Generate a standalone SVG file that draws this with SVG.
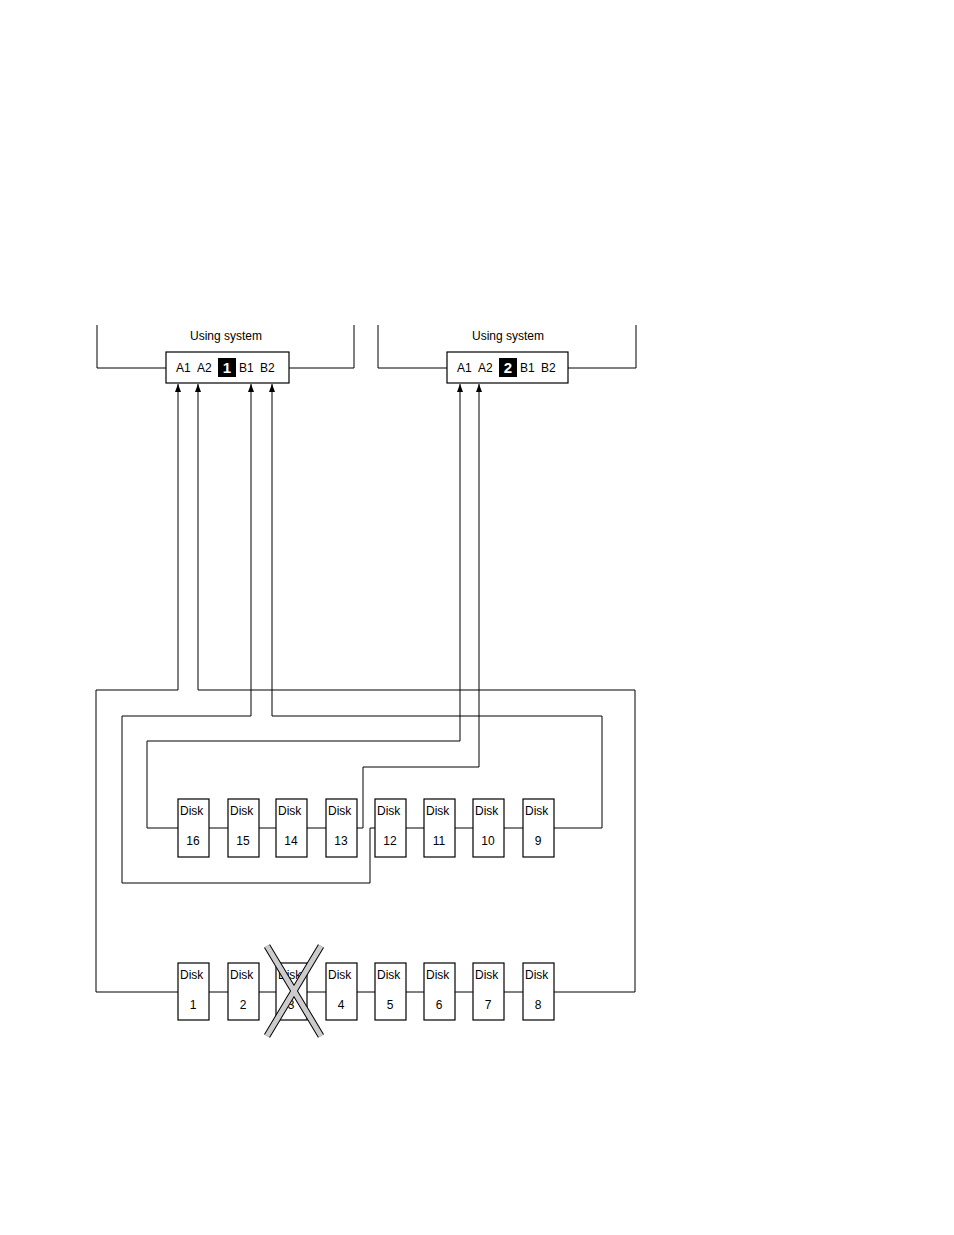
<svg xmlns="http://www.w3.org/2000/svg" width="954" height="1235" viewBox="0 0 954 1235">
<style>
text{font-family:"Liberation Sans",Arial,sans-serif;font-size:12px;fill:#000}
.l{fill:none;stroke:#000;stroke-width:1}
.d{fill:#fff;stroke:#000;stroke-width:1.2}
.c{text-anchor:middle}
</style>
<defs><marker id="ar" markerWidth="8" markerHeight="8" refX="8" refY="3" orient="auto" markerUnits="userSpaceOnUse" viewBox="0 0 8 6"><path d="M0,0 L8,3 L0,6 Z" fill="#000"/></marker></defs>
<rect width="954" height="1235" fill="#fff"/>
<g id="sys1">
<path class="l" d="M97,325 V368 H166 M289,368 H354 V325"/>
<rect class="d" x="166" y="352" width="123" height="31"/>
<text x="226" y="340" class="c">Using system</text>
<text x="176" y="372">A1</text><text x="197" y="372">A2</text>
<rect x="218" y="358" width="18" height="19" fill="#000"/>
<text x="227" y="373" class="c" style="fill:#fff;font-weight:bold;font-size:15px">1</text>
<text x="239" y="372">B1</text><text x="260" y="372">B2</text>
</g>
<g id="sys2">
<path class="l" d="M378,325 V368 H447 M568,368 H636 V325"/>
<rect class="d" x="447" y="352" width="121" height="31"/>
<text x="508" y="340" class="c">Using system</text>
<text x="457" y="372">A1</text><text x="478" y="372">A2</text>
<rect x="499" y="358" width="18" height="19" fill="#000"/>
<text x="508" y="373" class="c" style="fill:#fff;font-weight:bold;font-size:15px">2</text>
<text x="520" y="372">B1</text><text x="541" y="372">B2</text>
</g>
<g id="connectors">
<path class="l" d="M178,828 H357 M375,828 H554 M178,992 H554"/>
<path class="l" marker-end="url(#ar)" d="M178,992 H96 V690 H178 V384"/>
<path class="l" marker-end="url(#ar)" d="M554,992 H635 V690 H198 V384"/>
<path class="l" marker-end="url(#ar)" d="M375,828 H370 V883 H122 V716 H251 V384"/>
<path class="l" marker-end="url(#ar)" d="M554,828 H602 V716 H272 V384"/>
<path class="l" marker-end="url(#ar)" d="M178,828 H147 V741 H460 V384"/>
<path class="l" marker-end="url(#ar)" d="M357,828 H363 V767 H479 V384"/>
</g>
<g id="disks">
<g id="d16"><rect class="d" x="178" y="799" width="31" height="58"/><text x="180" y="815">Disk</text><text x="193" y="845" class="c">16</text></g>
<g id="d15"><rect class="d" x="228" y="799" width="31" height="58"/><text x="230" y="815">Disk</text><text x="243" y="845" class="c">15</text></g>
<g id="d14"><rect class="d" x="276" y="799" width="31" height="58"/><text x="278" y="815">Disk</text><text x="291" y="845" class="c">14</text></g>
<g id="d13"><rect class="d" x="326" y="799" width="31" height="58"/><text x="328" y="815">Disk</text><text x="341" y="845" class="c">13</text></g>
<g id="d12"><rect class="d" x="375" y="799" width="31" height="58"/><text x="377" y="815">Disk</text><text x="390" y="845" class="c">12</text></g>
<g id="d11"><rect class="d" x="424" y="799" width="31" height="58"/><text x="426" y="815">Disk</text><text x="439" y="845" class="c">11</text></g>
<g id="d10"><rect class="d" x="473" y="799" width="31" height="58"/><text x="475" y="815">Disk</text><text x="488" y="845" class="c">10</text></g>
<g id="d9"><rect class="d" x="523" y="799" width="31" height="58"/><text x="525" y="815">Disk</text><text x="538" y="845" class="c">9</text></g>
<g id="d1"><rect class="d" x="178" y="963" width="31" height="57"/><text x="180" y="979">Disk</text><text x="193" y="1009" class="c">1</text></g>
<g id="d2"><rect class="d" x="228" y="963" width="31" height="57"/><text x="230" y="979">Disk</text><text x="243" y="1009" class="c">2</text></g>
<g id="d3"><rect class="d" x="276" y="963" width="31" height="57"/><text x="278" y="979">Disk</text><text x="291" y="1009" class="c">3</text></g>
<g id="d4"><rect class="d" x="326" y="963" width="31" height="57"/><text x="328" y="979">Disk</text><text x="341" y="1009" class="c">4</text></g>
<g id="d5"><rect class="d" x="375" y="963" width="31" height="57"/><text x="377" y="979">Disk</text><text x="390" y="1009" class="c">5</text></g>
<g id="d6"><rect class="d" x="424" y="963" width="31" height="57"/><text x="426" y="979">Disk</text><text x="439" y="1009" class="c">6</text></g>
<g id="d7"><rect class="d" x="473" y="963" width="31" height="57"/><text x="475" y="979">Disk</text><text x="488" y="1009" class="c">7</text></g>
<g id="d8"><rect class="d" x="523" y="963" width="31" height="57"/><text x="525" y="979">Disk</text><text x="538" y="1009" class="c">8</text></g>
</g>
<g id="cross">
<path d="M267,946 L321,1036 M321,946 L267,1036" stroke="#000" stroke-width="7" fill="none"/>
<path d="M267,946 L321,1036 M321,946 L267,1036" stroke="#fff" stroke-width="5" fill="none" opacity="0.8"/>
</g>
</svg>
